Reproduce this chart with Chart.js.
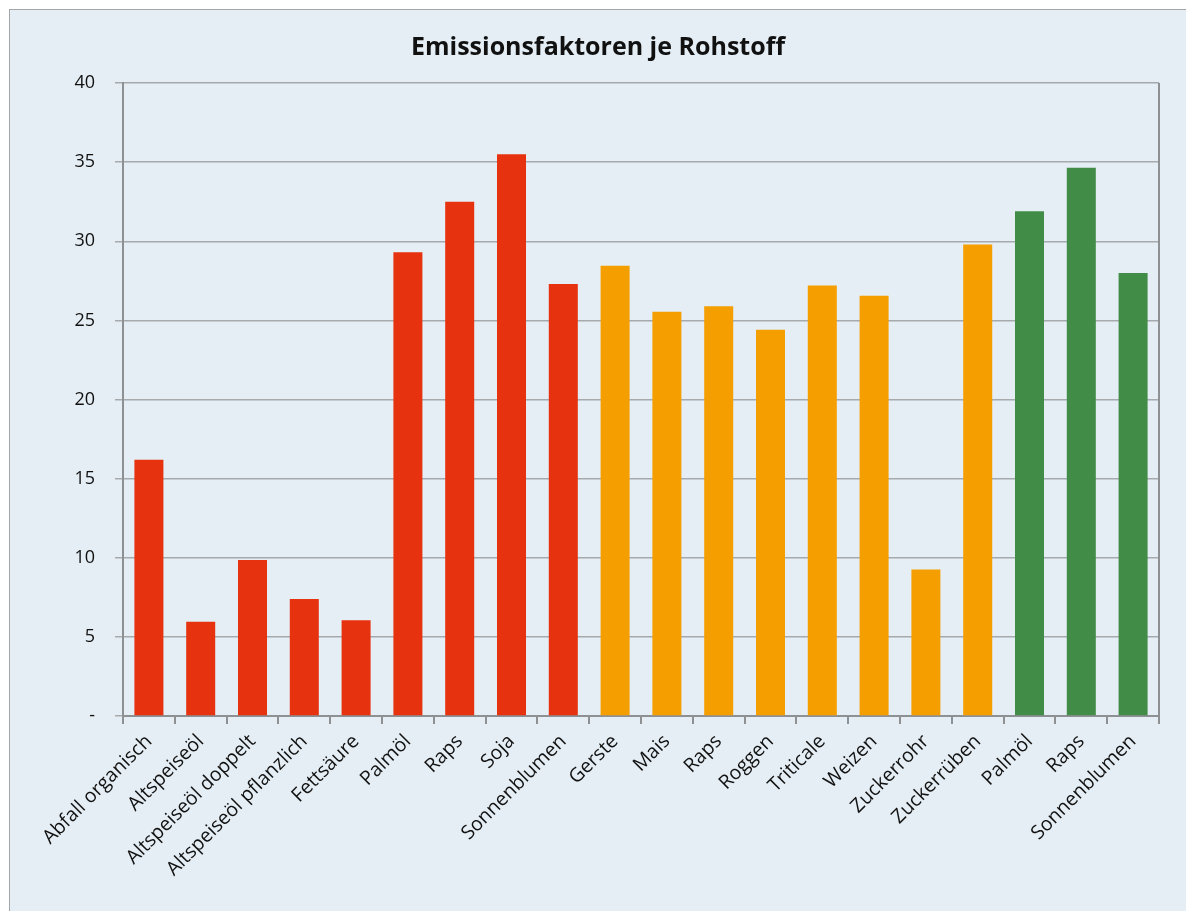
<!DOCTYPE html>
<html>
<head>
<meta charset="utf-8">
<script src="https://cdn.jsdelivr.net/npm/chart.js@4/dist/chart.umd.min.js"></script>
<style>
  body { margin: 0; background: #fff; overflow: hidden; }
  #frame {
    position: absolute; left: 9px; top: 9px;
    width: 1200px; height: 920px;
    background: #e5eef4;
    border: 1px solid #a3a6a8;
  }
  #chart { position: absolute; left: 0; top: 0; }
</style>
</head>
<body>
<div id="frame"><canvas id="chart" width="1176" height="901"></canvas></div>
<script>
// Rohstoffe (x-Achse)
const categories = [
  'Abfall organisch', 'Altspeiseöl', 'Altspeiseöl doppelt', 'Altspeiseöl pflanzlich',
  'Fettsäure', 'Palmöl', 'Raps', 'Soja', 'Sonnenblumen',
  'Gerste', 'Mais', 'Raps', 'Roggen', 'Triticale', 'Weizen', 'Zuckerrohr', 'Zuckerrüben',
  'Palmöl', 'Raps', 'Sonnenblumen'
];
// Emissionsfaktoren
const values = [
  16.2, 5.95, 9.85, 7.4, 6.05, 29.3, 32.5, 35.5, 27.3,
  28.45, 25.55, 25.9, 24.4, 27.2, 26.55, 9.25, 29.8,
  31.9, 34.65, 28.0
];
// Gruppe je Balken
const groups = [
  1, 1, 1, 1, 1, 1, 1, 1, 1,
  2, 2, 2, 2, 2, 2, 2, 2,
  3, 3, 3
];
const yTicks = [0, 5, 10, 15, 20, 25, 30, 35, 40];

const groupColors = { 1: '#e6320f', 2: '#f59e00', 3: '#418d48' };
const font = "'Open Sans', sans-serif";

// rechter Rand der Zeichenfläche
const plotBorder = {
  id: 'plotBorder',
  afterDraw(chart) {
    const a = chart.chartArea;
    const c = chart.ctx;
    c.save();
    c.strokeStyle = '#8e9194';
    c.lineWidth = 2;
    c.beginPath();
    c.moveTo(a.right, a.top);
    c.lineTo(a.right, a.bottom);
    c.stroke();
    c.restore();
  }
};

new Chart(document.getElementById('chart'), {
  type: 'bar',
  data: {
    labels: categories,
    datasets: [{
      data: values,
      backgroundColor: groups.map(g => groupColors[g]),
      categoryPercentage: 1,
      barPercentage: 0.56
    }]
  },
  plugins: [plotBorder],
  options: {
    responsive: false,
    animation: false,
    layout: { padding: { left: 27, right: 27, top: 0, bottom: 0 } },
    plugins: {
      legend: { display: false },
      tooltip: { enabled: false },
      title: {
        display: true,
        text: 'Emissionsfaktoren je Rohstoff',
        color: '#111',
        font: { family: font, size: 25, weight: 'bold' },
        padding: { top: 23, bottom: 20 }
      }
    },
    scales: {
      x: {
        offset: true,
        grid: {
          offset: true,
          drawOnChartArea: false,
          drawTicks: true,
          tickLength: 8,
          color: '#8e9194',
          lineWidth: 2
        },
        border: { color: '#8e9194', width: 2 },
        ticks: {
          minRotation: 45,
          maxRotation: 45,
          autoSkip: false,
          padding: 6,
          color: '#111',
          font: { family: font, size: 19.5 }
        },
        afterFit(scale) { scale.height = 195; }
      },
      y: {
        min: 0,
        max: 40,
        afterBuildTicks(scale) { scale.ticks = yTicks.map(v => ({ value: v })); },
        grid: {
          color: '#a6aaad',
          lineWidth: 1.5,
          tickLength: 8
        },
        border: { color: '#8e9194', width: 2 },
        ticks: {
          padding: 20,
          color: '#111',
          font: { family: font, size: 18 },
          callback: v => v === 0 ? '-' : v
        },
        afterFit(scale) { scale.width = 86; }
      }
    }
  }
});
</script>
</body>
</html>
